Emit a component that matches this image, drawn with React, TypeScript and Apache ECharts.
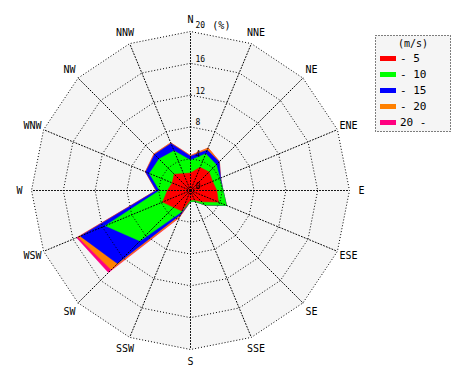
import React, { useEffect, useRef } from "react";
import * as echarts from "echarts";

// Compass directions, clockwise from north
const DIRECTIONS = ["N", "NNE", "NE", "ENE", "E", "ESE", "SE", "SSE", "S", "SSW", "SW", "WSW", "W", "WNW", "NW", "NNW"];
// Wind speed classes (m/s)
const SPEED_CLASSES = ["- 5", "- 10", "- 15", "- 20", "20 -"];
const CLASS_COLORS = ["#ff0000", "#00ff00", "#0000ff", "#ff8000", "#ff0080"];
// Frequency (%) per direction for each speed class
const FREQ_0_5 = [2.2, 3.15, 3.3, 3.0, 3.3, 3.8, 2.0, 1.3, 1.2, 2.8, 3.0, 3.8, 2.9, 2.5, 2.9, 2.3];
const FREQ_5_10 = [1.6, 1.85, 1.3, 1.0, 0.8, 1.1, 0.6, 0.2, 0.2, 0.1, 6.0, 7.8, 1.0, 3.1, 2.7, 3.1];
const FREQ_10_15 = [0.5, 0.5, 0.5, 0.1, 0, 0, 0, 0, 0, 0.4, 4.0, 3.4, 0.4, 0.5, 0.8, 1.0];
const FREQ_15_20 = [0.1, 0.3, 0.05, 0, 0, 0, 0, 0, 0, 0.3, 1.1, 0.3, 0.05, 0.05, 0.1, 0.1];
const FREQ_20_UP = [0, 0, 0, 0, 0, 0, 0, 0, 0, 0.1, 0.5, 0.2, 0, 0, 0, 0];
// Radial axis
const AXIS_MAX = 20;
const AXIS_SPLITS = 5;

const FONT = "DejaVu Sans Mono";
const DOTS = [1, 2];

export default function App() {
  const ref = useRef<HTMLDivElement>(null);

  useEffect(() => {
    if (!ref.current) return;
    const chart = echarts.init(ref.current, null, { renderer: "svg" });

    const classes = [FREQ_0_5, FREQ_5_10, FREQ_10_15, FREQ_15_20, FREQ_20_UP];
    // cumulative totals per class
    const cumulative: number[][] = [];
    classes.forEach((arr, k) => {
      cumulative.push(
        arr.map((v, i) => Math.round(((k > 0 ? cumulative[k - 1][i] : 0) + v) * 1000) / 1000)
      );
    });

    // radar runs counter-clockwise: N, NNW, NW, ...
    const order = DIRECTIONS.map((_, j) => (DIRECTIONS.length - j) % DIRECTIONS.length);

    const makeIndicators = (withText: boolean) =>
      order.map((idx, j) => {
        const ind: any = {
          name: withText ? DIRECTIONS[idx] : "",
          min: 0,
          max: AXIS_MAX,
          nameMoveOverlap: false,
        };
        if (withText && j === 0) {
          ind.axisLabel = {
            show: true,
            margin: -5,
            align: "left",
            verticalAlign: "bottom",
            color: "#000",
            fontFamily: FONT,
            hideOverlap: false,
            formatter: (v: number) => (v === AXIS_MAX ? "{s|" + v + "} {p|(%)}" : "{s|" + v + "}"),
            rich: {
              s: { fontSize: 8, fontFamily: FONT, color: "#000" },
              p: { fontSize: 10, fontFamily: FONT, color: "#000" },
            },
          };
        }
        return ind;
      });

    const radarBase = {
      center: [190.5, 190.5],
      radius: 159,
      startAngle: 90,
      shape: "polygon",
      splitNumber: AXIS_SPLITS,
      nameGap: 12,
      nameMoveOverlap: false,
      axisTick: { show: false },
      axisLabel: { show: false },
    };

    const series: any[] = [];
    for (let k = SPEED_CLASSES.length - 1; k >= 0; k--) {
      series.push({
        type: "radar",
        radarIndex: 0,
        name: SPEED_CLASSES[k],
        symbol: "none",
        silent: true,
        z: 2,
        itemStyle: { color: CLASS_COLORS[k] },
        lineStyle: { color: CLASS_COLORS[k], width: 0.5 },
        areaStyle: { color: CLASS_COLORS[k], opacity: 1 },
        data: [{ name: SPEED_CLASSES[k], value: order.map((idx) => cumulative[k][idx]) }],
      });
    }

    chart.setOption({
      animation: false,
      backgroundColor: "#ffffff",
      radar: [
        {
          ...radarBase,
          z: 0,
          axisName: { show: false },
          axisLine: { show: false },
          splitLine: { show: false },
          splitArea: { show: true, areaStyle: { color: ["#f5f5f5"] } },
          indicator: makeIndicators(false),
        },
        {
          ...radarBase,
          z: 10,
          axisName: {
            color: "#000",
            fontFamily: FONT,
            fontSize: 10,
            align: "center",
            verticalAlign: "middle",
          },
          axisLine: { lineStyle: { color: "#000", type: DOTS, width: 1 } },
          splitLine: { lineStyle: { color: "#000", type: DOTS, width: 1 } },
          splitArea: { show: false },
          indicator: makeIndicators(true),
        },
      ],
      legend: {
        data: SPEED_CLASSES,
        orient: "vertical",
        left: 380,
        top: 53,
        icon: "rect",
        itemWidth: 16,
        itemHeight: 5,
        itemGap: 5,
        padding: 0,
        selectedMode: false,
        textStyle: { fontFamily: FONT, fontSize: 11, color: "#000", padding: [0, 0, 0, -1] },
      },
      graphic: [
        {
          type: "rect",
          z: 1,
          shape: { x: 375.5, y: 35.5, width: 75, height: 96 },
          style: { fill: "#f5f5f5", stroke: "#000", lineWidth: 1, lineDash: [1, 2] },
        },
        {
          type: "text",
          z: 2,
          x: 413,
          y: 43,
          style: {
            text: "(m/s)",
            fontFamily: FONT,
            fontSize: 10,
            fill: "#000",
            align: "center",
            verticalAlign: "middle",
          },
        },
      ],
      series,
    });

    return () => chart.dispose();
  }, []);

  return (
    <div
      ref={ref}
      style={{ position: "fixed", left: 0, top: 0, width: 470, height: 380, background: "#fff" }}
    />
  );
}
